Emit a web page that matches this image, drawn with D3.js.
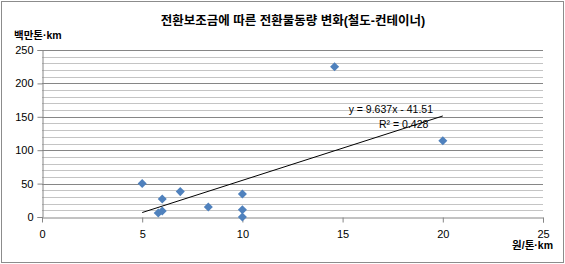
<!DOCTYPE html>
<html>
<head>
<meta charset="utf-8">
<script src="https://cdn.jsdelivr.net/npm/d3@7"></script>
<style>
  body { margin: 0; background: #fff; }
  svg text { font-family: "Liberation Sans", "Noto Sans CJK KR", sans-serif; fill: #000; }
</style>
</head>
<body>
<div id="container"></div>
<script>
// data
const subsidy = [5, 6, 5.8, 6, 6.9, 8.3, 10, 10, 10, 14.6, 20];
const volume = [50, 27, 6, 9, 38, 15, 34.5, 11, 0, 225, 114];
const xTicks = [0, 5, 10, 15, 20, 25];
const yTicks = [0, 50, 100, 150, 200, 250];
const slope = 9.637;
const intercept = -41.51;
const rSquared = 0.428;

const title = "전환보조금에 따른 전환물동량 변화(철도-컨테이너)";
const yTitle = "백만톤·km";
const xTitle = "원/톤·km";

const width = 565, height = 264;
const margin = { top: 50, right: 22, bottom: 47, left: 42 };

const svg = d3.select("#container").append("svg")
  .attr("width", width)
  .attr("height", height);

svg.append("rect")
  .attr("x", 1.5).attr("y", 1.5)
  .attr("width", width - 3).attr("height", height - 3)
  .attr("fill", "#fff").attr("stroke", "#8c8c8c");

const x = d3.scaleLinear().domain([0, 25]).range([margin.left, width - margin.right]);
const y = d3.scaleLinear().domain([0, 250]).range([height - margin.bottom, margin.top]);

// minor grid every 10
svg.append("g")
  .selectAll("line")
  .data(d3.range(10, 250, 10).filter((d) => d % 50 !== 0))
  .join("line")
  .attr("x1", x(0)).attr("x2", x(25))
  .attr("y1", (d) => Math.round(y(d)) + 0.5)
  .attr("y2", (d) => Math.round(y(d)) + 0.5)
  .attr("stroke", "#c4c4c4");

// major grid
svg.append("g")
  .selectAll("line")
  .data(yTicks.slice(1))
  .join("line")
  .attr("x1", x(0)).attr("x2", x(25))
  .attr("y1", (d) => Math.round(y(d)) + 0.5)
  .attr("y2", (d) => Math.round(y(d)) + 0.5)
  .attr("stroke", "#868686");

// axes
const yAxis = svg.append("g")
  .attr("transform", `translate(${Math.round(x(0)) + 0.5},0)`)
  .call(d3.axisLeft(y).tickValues(yTicks).tickSize(5).tickPadding(4).tickFormat(d3.format("d")));
const xAxis = svg.append("g")
  .attr("transform", `translate(0,${Math.round(y(0)) + 0.5})`)
  .call(d3.axisBottom(x).tickValues(xTicks).tickSize(5).tickPadding(8).tickFormat(d3.format("d")));

[xAxis, yAxis].forEach((g) => {
  g.select(".domain").attr("stroke", "#868686");
  g.selectAll(".tick line").attr("stroke", "#868686");
  g.selectAll(".tick text")
    .attr("font-size", 11)
    .attr("font-family", "Liberation Sans, sans-serif");
});
yAxis.selectAll(".tick line").attr("x2", -5);
xAxis.selectAll(".tick").filter((d) => d === 0).select("line").remove();

// trendline
const xMin = d3.min(subsidy), xMax = d3.max(subsidy);
svg.append("line")
  .attr("x1", x(xMin)).attr("y1", y(slope * xMin + intercept))
  .attr("x2", x(xMax)).attr("y2", y(slope * xMax + intercept))
  .attr("stroke", "#000").attr("stroke-width", 1);

// points
const diamond = d3.symbol().type(d3.symbolDiamond2).size(52);
svg.append("g")
  .selectAll("path")
  .data(subsidy.map((d, i) => [d, volume[i]]))
  .join("path")
  .attr("d", diamond)
  .attr("transform", ([a, b]) => `translate(${x(a)},${y(b)})`)
  .attr("fill", "#4f81bd");

// equation
svg.append("text")
  .attr("x", 433).attr("y", 113)
  .attr("text-anchor", "end")
  .attr("font-size", 10.5)
  .text(`y = ${slope}x - ${Math.abs(intercept)}`);
svg.append("text")
  .attr("x", 379).attr("y", 128)
  .attr("font-size", 10.5)
  .text(`R² = ${rSquared}`);

// titles
svg.append("text")
  .attr("x", 293).attr("y", 25)
  .attr("text-anchor", "middle")
  .attr("font-size", 12.5)
  .attr("font-weight", "bold")
  .text(title);
svg.append("text")
  .attr("x", 14).attr("y", 39)
  .attr("font-size", 10.5)
  .attr("font-weight", "bold")
  .text(yTitle);
svg.append("text")
  .attr("x", 553).attr("y", 249)
  .attr("text-anchor", "end")
  .attr("font-size", 10.5)
  .attr("font-weight", "bold")
  .text(xTitle);
</script>
</body>
</html>
